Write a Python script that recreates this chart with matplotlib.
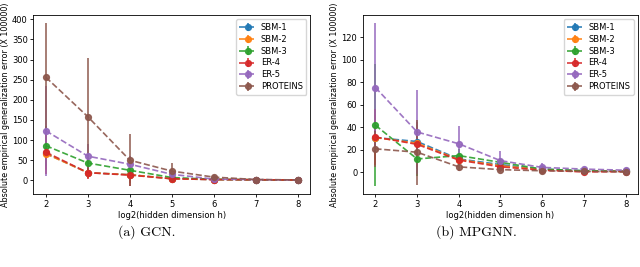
import numpy as np
import matplotlib
matplotlib.use("Agg")
import matplotlib.pyplot as plt

hidden = [2, 3, 4, 5, 6, 7, 8]
names = ["SBM-1", "SBM-2", "SBM-3", "ER-4", "ER-5", "PROTEINS"]

# GCN: mean and std of the generalization error (x 1e5)
gcn_mean = {
    "SBM-1": [67, 19, 14, 4, 2, 1.5, 0.8],
    "SBM-2": [66, 19, 14, 4, 2, 1.5, 0.8],
    "SBM-3": [86, 43, 25, 7, 2.5, 1.5, 0.8],
    "ER-4": [70, 19, 13, 4, 2, 1.5, 0.8],
    "ER-5": [123, 60, 40, 15, 3, 1.8, 0.9],
    "PROTEINS": [256, 158, 50, 23, 8, 2, 1],
}
gcn_std = {
    "SBM-1": [40, 12, 20, 3, 1, 0.5, 0.3],
    "SBM-2": [40, 12, 20, 3, 1, 0.5, 0.3],
    "SBM-3": [50, 20, 15, 4, 1, 0.5, 0.3],
    "ER-4": [55, 16, 27, 3, 1, 0.5, 0.3],
    "ER-5": [112, 30, 20, 8, 2, 0.5, 0.3],
    "PROTEINS": [134, 145, 64, 19, 5, 1, 0.5],
}

# MPGNN
mpgnn_mean = {
    "SBM-1": [31, 27.5, 12, 7, 3, 1.5, 1],
    "SBM-2": [31, 26, 11.5, 6, 2.5, 1.2, 1],
    "SBM-3": [42, 12, 15, 9, 3, 1.5, 1],
    "ER-4": [31.5, 25, 11, 5, 2, 0.5, 0.8],
    "ER-5": [75.5, 36, 25.5, 10.5, 4.5, 3, 2],
    "PROTEINS": [21, 18, 5, 2.5, 1.5, 1, 0.5],
}
mpgnn_std = {
    "SBM-1": [20, 15, 5, 3, 1.5, 0.8, 0.5],
    "SBM-2": [20, 15, 5, 3, 1.5, 0.8, 0.5],
    "SBM-3": [54, 15, 6, 4, 1.5, 0.8, 0.5],
    "ER-4": [25, 20, 5, 3, 1.5, 0.8, 0.5],
    "ER-5": [57, 37, 15.5, 9, 4, 1, 0.8],
    "PROTEINS": [16, 29, 4, 2, 1, 0.5, 0.3],
}

colors = ["#1f77b4", "#ff7f0e", "#2ca02c", "#d62728", "#9467bd", "#8c564b"]

fig = plt.figure(figsize=(6.4, 2.67), dpi=100)
ax1 = fig.add_axes([0.052, 0.273, 0.433, 0.670])
ax2 = fig.add_axes([0.567, 0.273, 0.430, 0.670])

fs = 6
for ax, means, stds, cap, cx in [
    (ax1, gcn_mean, gcn_std, "(a) GCN.", 0.23),
    (ax2, mpgnn_mean, mpgnn_std, "(b) MPGNN.", 0.745),
]:
    for name, c in zip(names, colors):
        ax.errorbar(hidden, means[name], yerr=stds[name], fmt="o--",
                    color=c, label=name, markersize=4.2, linewidth=1.2,
                    elinewidth=1.2, alpha=0.9)
    ax.set_xticks(hidden)
    ax.tick_params(labelsize=fs, length=2.5, width=0.6, pad=1.5)
    for s in ax.spines.values():
        s.set_linewidth(0.6)
    ax.set_xlabel("log2(hidden dimension h)", fontsize=fs, labelpad=1.5)
    ax.set_ylabel("Absolute empirical generalization error (X 100000)",
                  fontsize=5.75, labelpad=1.5)
    ax.legend(loc="upper right", fontsize=fs, handlelength=2.0,
              labelspacing=0.35, borderpad=0.4, handletextpad=0.6)
    fig.text(cx, 0.13, cap, ha="center", va="center", fontsize=10,
             family="cmr10")

fig.savefig("out.png", dpi=100)
